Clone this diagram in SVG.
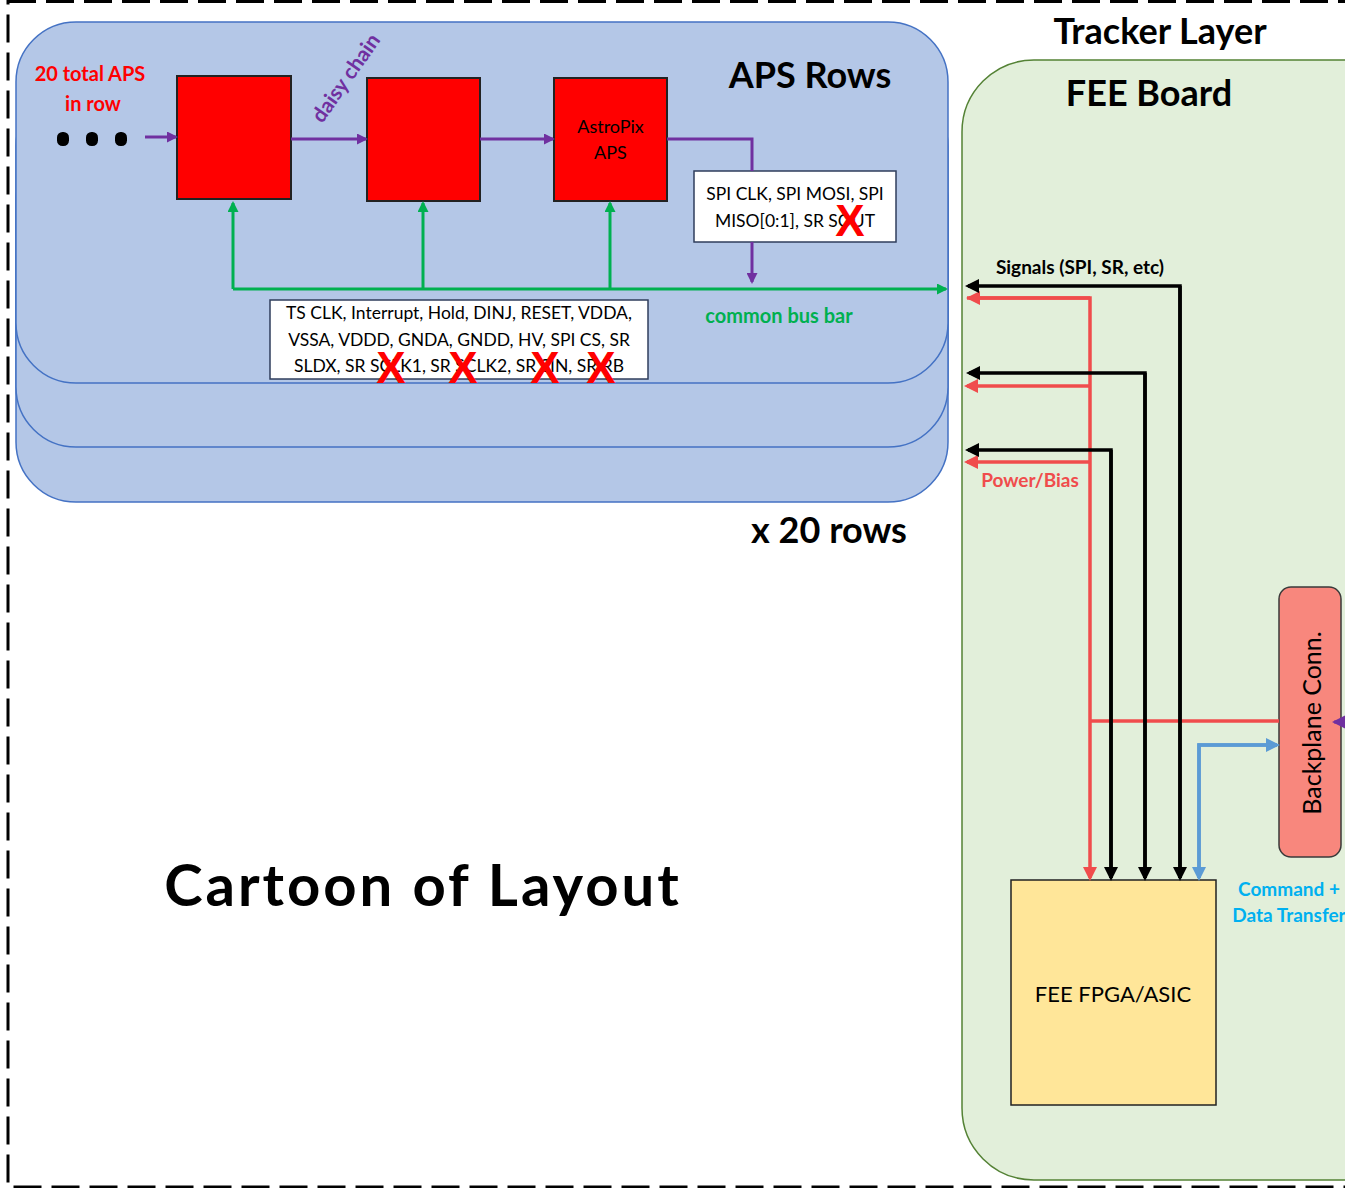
<svg xmlns="http://www.w3.org/2000/svg" width="1345" height="1188" viewBox="0 0 1345 1188">
<style>
text{font-family:Lato,"Open Sans","Liberation Sans",sans-serif;}
.b{font-weight:bold;}
.row{fill:#B4C7E7;stroke:#4472C4;stroke-width:1.5;}
.chip{fill:#FF0000;stroke:#222;stroke-width:2;}
.lbl{fill:#fff;stroke:#2F3E5C;stroke-width:1.5;}
.x{fill:#FF0000;font-weight:bold;font-size:44px;font-family:"Liberation Sans",sans-serif;}
.pur{stroke:#7030A0;stroke-width:3;fill:none;}
.grn{stroke:#00B050;stroke-width:3;fill:none;}
.blk{stroke:#000;stroke-width:3.5;fill:none;}
.red{stroke:#F04C4C;stroke-width:3.5;fill:none;}
.blu{stroke:#5B9BD5;stroke-width:3.5;fill:none;}
</style>
<defs>
<marker id="mp" markerWidth="11" markerHeight="11" refX="9" refY="5.5" orient="auto" markerUnits="userSpaceOnUse"><path d="M0,0 L11,5.5 L0,11 Z" fill="#7030A0"/></marker>
<marker id="mpl" markerWidth="16" markerHeight="16" refX="14" refY="8" orient="auto" markerUnits="userSpaceOnUse"><path d="M0,0 L16,8 L0,16 Z" fill="#7030A0"/></marker>
<marker id="mg" markerWidth="11" markerHeight="11" refX="9" refY="5.5" orient="auto" markerUnits="userSpaceOnUse"><path d="M0,0 L11,5.5 L0,11 Z" fill="#00B050"/></marker>
<marker id="mk" markerWidth="14" markerHeight="14" refX="11" refY="7" orient="auto" markerUnits="userSpaceOnUse"><path d="M0,0 L14,7 L0,14 Z" fill="#000"/></marker>
<marker id="mr" markerWidth="14" markerHeight="14" refX="11" refY="7" orient="auto" markerUnits="userSpaceOnUse"><path d="M0,0 L14,7 L0,14 Z" fill="#F04C4C"/></marker>
<marker id="mb" markerWidth="14" markerHeight="14" refX="11" refY="7" orient="auto" markerUnits="userSpaceOnUse"><path d="M0,0 L14,7 L0,14 Z" fill="#5B9BD5"/></marker>
</defs>
<rect x="0" y="0" width="1345" height="1188" fill="#fff"/>
<rect id="frame" x="8" y="1.5" width="1400" height="1185.5" fill="none" stroke="#000" stroke-width="3" stroke-dasharray="28 10"/>

<g id="aps-rows">
<rect class="row" x="16" y="141" width="932" height="361" rx="60"/>
<rect class="row" x="16" y="86" width="932" height="361" rx="60"/>
<rect class="row" x="16" y="22" width="932" height="361" rx="60"/>
<text class="b" x="810" y="88" font-size="36" text-anchor="middle">APS Rows</text>
<text class="b" x="829" y="543" font-size="36" text-anchor="middle">x 20 rows</text>
</g>

<g id="row-count">
<text class="b" x="90" y="81" font-size="20" fill="#FF0000" text-anchor="middle">20 total APS</text>
<text class="b" x="93" y="111" font-size="20" fill="#FF0000" text-anchor="middle">in row</text>
<rect x="57" y="132" width="12" height="14" rx="5.5"/>
<rect x="86" y="132" width="12" height="14" rx="5.5"/>
<rect x="115" y="132" width="12" height="14" rx="5.5"/>
</g>

<g id="chip1"><rect class="chip" x="177" y="76" width="114" height="123"/></g>
<g id="chip2"><rect class="chip" x="367" y="78" width="113" height="123"/></g>
<g id="chip3"><rect class="chip" x="554" y="78" width="113" height="123"/>
<text x="610.5" y="133" font-size="18" text-anchor="middle">AstroPix</text>
<text x="610.5" y="159" font-size="18" text-anchor="middle">APS</text>
</g>

<g id="spi-label">
<rect class="lbl" x="694" y="171" width="202" height="71"/>
<text x="795" y="200" font-size="17.5" text-anchor="middle">SPI CLK, SPI MOSI, SPI</text>
<text x="795" y="227" font-size="17.5" text-anchor="middle">MISO[0:1], SR SOUT</text>
</g>

<g id="bus-label">
<rect class="lbl" x="270" y="300" width="378" height="79"/>
<text x="459" y="319" font-size="17.5" text-anchor="middle">TS CLK, Interrupt, Hold, DINJ, RESET, VDDA,</text>
<text x="459" y="346" font-size="17.5" text-anchor="middle">VSSA, VDDD, GNDA, GNDD, HV, SPI CS, SR</text>
<text x="459" y="372" font-size="17.5" text-anchor="middle">SLDX, SR SCLK1, SR SCLK2, SR SIN, SR RB</text>
</g>

<g id="fee-board">
<rect x="962" y="60" width="460" height="1120" rx="72" fill="#E2EFDA" stroke="#548235" stroke-width="1.5"/>
<text class="b" x="1160" y="44" font-size="36" text-anchor="middle">Tracker Layer</text>
<text class="b" x="1149" y="106" font-size="36" text-anchor="middle">FEE Board</text>
</g>

<g id="backplane">
<rect x="1279" y="587" width="62" height="270" rx="12" fill="#F8877D" stroke="#3A3A3A" stroke-width="1.5"/>
<text x="1321" y="723" font-size="25" text-anchor="middle" transform="rotate(-90 1321 723)">Backplane Conn.</text>
</g>

<g id="fpga">
<rect x="1011" y="880" width="205" height="225" fill="#FFE699" stroke="#222" stroke-width="1.5"/>
<text x="1113" y="1002" font-size="22" text-anchor="middle">FEE FPGA/ASIC</text>
</g>

<g id="connectors">
<line class="pur" x1="145" y1="137" x2="176" y2="137" marker-end="url(#mp)"/>
<line class="pur" x1="291" y1="139" x2="366" y2="139" marker-end="url(#mp)"/>
<line class="pur" x1="480" y1="139" x2="553" y2="139" marker-end="url(#mp)"/>
<polyline class="pur" points="667,139 752,139 752,171"/>
<line class="pur" x1="752" y1="242" x2="752" y2="282" marker-end="url(#mp)"/>
<line class="grn" x1="233" y1="289" x2="946" y2="289" marker-end="url(#mg)"/>
<line class="grn" x1="233" y1="289" x2="233" y2="203" marker-end="url(#mg)"/>
<line class="grn" x1="423" y1="289" x2="423" y2="203" marker-end="url(#mg)"/>
<line class="grn" x1="610" y1="289" x2="610" y2="203" marker-end="url(#mg)"/>

<polyline class="red" points="967,298 1090,298 1090,878" marker-end="url(#mr)"/>
<line class="red" x1="1090" y1="386" x2="967" y2="386" marker-end="url(#mr)"/>
<line class="red" x1="1090" y1="462" x2="967" y2="462" marker-end="url(#mr)"/>
<line class="red" x1="1090" y1="721" x2="1279" y2="721"/>
<line x1="1090" y1="298" x2="969" y2="298" stroke="#F04C4C" stroke-width="3.5" marker-end="url(#mr)"/>

<polyline class="blk" points="1180,878 1180,286 968,286" marker-end="url(#mk)"/>
<polyline class="blk" points="1180,286 1180,878" marker-end="url(#mk)"/>
<polyline class="blk" points="1145,878 1145,373 969,373" marker-end="url(#mk)"/>
<polyline class="blk" points="1145,373 1145,878" marker-end="url(#mk)"/>
<polyline class="blk" points="1111,878 1111,450 968,450" marker-end="url(#mk)"/>
<polyline class="blk" points="1111,450 1111,878" marker-end="url(#mk)"/>

<polyline class="blu" points="1199,878 1199,745 1277,745" marker-end="url(#mb)"/>
<polyline class="blu" points="1277,745 1199,745 1199,878" marker-end="url(#mb)"/>

<line x1="1370" y1="722" x2="1334" y2="722" stroke="#7030A0" stroke-width="3" marker-end="url(#mpl)"/>
</g>

<g id="labels">
<text class="b" x="346" y="85" font-size="21" fill="#7030A0" text-anchor="middle" transform="rotate(-55 346 78)">daisy chain</text>
<text class="b" x="779" y="323" font-size="20" fill="#00B050" text-anchor="middle">common bus bar</text>
<text class="b" x="1080" y="274" font-size="19" text-anchor="middle">Signals (SPI, SR, etc)</text>
<text class="b" x="1030" y="487" font-size="19" fill="#F04C4C" text-anchor="middle">Power/Bias</text>
<text class="b" x="1289" y="896" font-size="19" fill="#00B0F0" text-anchor="middle">Command +</text>
<text class="b" x="1289" y="922" font-size="19" fill="#00B0F0" text-anchor="middle">Data Transfer</text>
<text class="b" x="423" y="906" font-size="58" letter-spacing="3" text-anchor="middle">Cartoon of Layout</text>
</g>

<g id="strikes">
<text class="x" x="850" y="236" text-anchor="middle">X</text>
<text class="x" x="391" y="383" text-anchor="middle">X</text>
<text class="x" x="463" y="383" text-anchor="middle">X</text>
<text class="x" x="545" y="383" text-anchor="middle">X</text>
<text class="x" x="601" y="383" text-anchor="middle">X</text>
</g>
</svg>
